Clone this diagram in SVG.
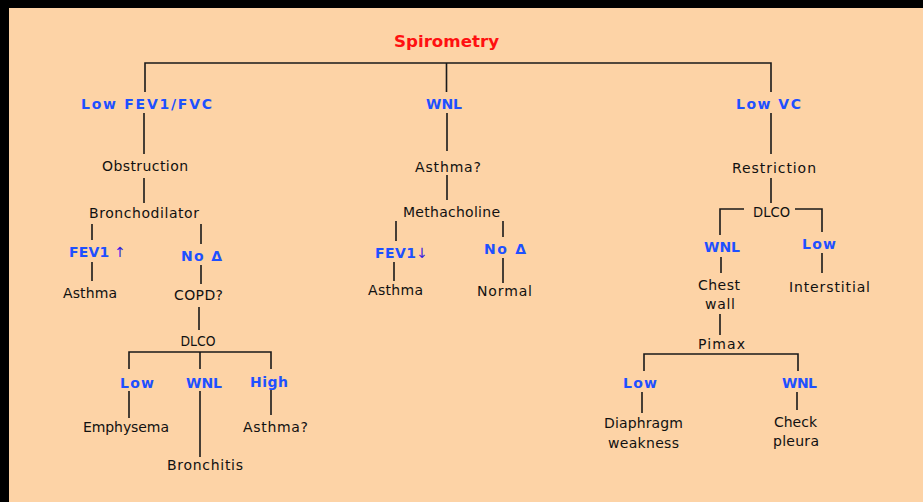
<svg xmlns="http://www.w3.org/2000/svg" width="923" height="502" viewBox="0 0 923 502">
<style>
.t{font-family:"DejaVu Sans","Liberation Sans",sans-serif;font-size:14px;fill:#111;text-anchor:middle}
.b{font-family:"DejaVu Sans","Liberation Sans",sans-serif;font-size:14px;font-weight:bold;fill:#1e50ff;text-anchor:middle}
.r{font-family:"DejaVu Sans","Liberation Sans",sans-serif;font-size:16px;font-weight:bold;fill:#ff1010;text-anchor:middle}
.ar{fill:#3a1ee0}
.c{fill:none;stroke:#1a1a1a;stroke-width:1.6}
</style>
<rect x="0" y="0" width="923" height="502" fill="#000"/>
<rect x="9" y="8" width="914" height="494" fill="#fdd3a6"/>
<g id="connectors" class="c">
<path d="M145 92 V63 H771 V92 M446.5 63 V92"/>
<path d="M144 113 V154 M144 178 V203"/>
<path d="M92 224 V240 M201 224 V244 M92 262 V281 M201 265 V284 M199 307 V330"/>
<path d="M129 369 V352 H271 V369 M200 352 V369"/>
<path d="M129 391 V418 M200 391 V457 M271 390 V415"/>
<path d="M447 113 V151 M447 175 V200 M396 221 V241 M503 221 V237 M394 262 V281 M503 258 V283"/>
<path d="M771 113 V154 M771 178 V203 M744 209 H720 V235 M795 209 H822 V232 M721 257 V273 M822 253 V273"/>
<path d="M720 314 V335 M644 371 V354 H798 V371 M642 392 V413 M797 392 V410"/>
</g>
<g id="spirometry"><text class="r" x="446.5" y="47" textLength="105" lengthAdjust="spacingAndGlyphs">Spirometry</text></g>
<g id="low-fev1-fvc"><text class="b" x="146.5" y="109" textLength="131">Low FEV1/FVC</text></g>
<g id="obstruction"><text class="t" x="145" y="171" textLength="86">Obstruction</text></g>
<g id="bronchodilator"><text class="t" x="144" y="218" textLength="110">Bronchodilator</text></g>
<g id="fev1-up"><text class="b" x="97.5" y="257" textLength="57">FEV1 <tspan class="ar" style="font-weight:normal">↑</tspan></text></g>
<g id="no-change-1"><text class="b" x="201.5" y="261" textLength="41">No Δ</text></g>
<g id="asthma-1"><text class="t" x="90" y="298" textLength="54">Asthma</text></g>
<g id="copd"><text class="t" x="198.5" y="300" textLength="49">COPD?</text></g>
<g id="dlco-1"><text class="t" x="198" y="346" textLength="35" lengthAdjust="spacingAndGlyphs">DLCO</text></g>
<g id="low-1"><text class="b" x="137" y="388" textLength="34">Low</text></g>
<g id="wnl-1"><text class="b" x="204" y="388" textLength="36">WNL</text></g>
<g id="high"><text class="b" x="269" y="387" textLength="38">High</text></g>
<g id="emphysema"><text class="t" x="126" y="432" textLength="86">Emphysema</text></g>
<g id="bronchitis"><text class="t" x="205" y="470" textLength="76">Bronchitis</text></g>
<g id="asthma-q-1"><text class="t" x="275.5" y="432" textLength="65">Asthma?</text></g>
<g id="wnl-mid"><text class="b" x="444" y="109" textLength="36">WNL</text></g>
<g id="asthma-q-2"><text class="t" x="448" y="172" textLength="66">Asthma?</text></g>
<g id="methacholine"><text class="t" x="451.5" y="217" textLength="97">Methacholine</text></g>
<g id="fev1-down"><text class="b" x="401.5" y="258" textLength="53">FEV1<tspan class="ar" style="font-weight:normal">↓</tspan></text></g>
<g id="no-change-2"><text class="b" x="505" y="254" textLength="42">No Δ</text></g>
<g id="asthma-2"><text class="t" x="395.5" y="295" textLength="55">Asthma</text></g>
<g id="normal"><text class="t" x="504.5" y="296" textLength="55">Normal</text></g>
<g id="low-vc"><text class="b" x="768.5" y="109" textLength="65">Low VC</text></g>
<g id="restriction"><text class="t" x="774" y="173" textLength="84">Restriction</text></g>
<g id="dlco-2"><text class="t" x="771.5" y="217" textLength="37" lengthAdjust="spacingAndGlyphs">DLCO</text></g>
<g id="wnl-2"><text class="b" x="722" y="252" textLength="36">WNL</text></g>
<g id="low-2"><text class="b" x="819" y="249" textLength="34">Low</text></g>
<g id="chest-wall"><text class="t" x="719" y="290" textLength="42">Chest</text><text class="t" x="720" y="309" textLength="30">wall</text></g>
<g id="interstitial"><text class="t" x="829.5" y="292" textLength="81">Interstitial</text></g>
<g id="pimax"><text class="t" x="721.5" y="349" textLength="47">Pimax</text></g>
<g id="low-3"><text class="b" x="640" y="388" textLength="34">Low</text></g>
<g id="wnl-3"><text class="b" x="799.5" y="388" textLength="35">WNL</text></g>
<g id="diaphragm"><text class="t" x="643.5" y="428" textLength="79">Diaphragm</text><text class="t" x="643.5" y="448" textLength="71">weakness</text></g>
<g id="check-pleura"><text class="t" x="795.5" y="427" textLength="43">Check</text><text class="t" x="796" y="446" textLength="46">pleura</text></g>
</svg>
